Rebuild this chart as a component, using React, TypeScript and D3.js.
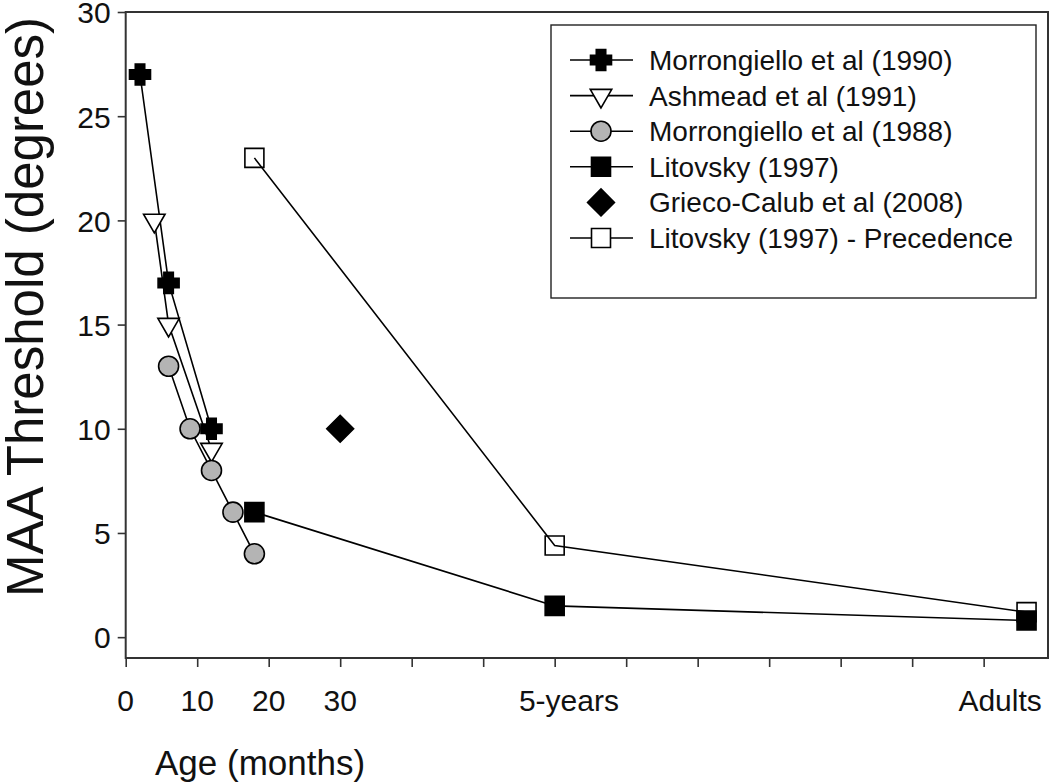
import React, { useEffect, useRef } from 'react';
import * as d3 from 'd3';

// values: [age in months, MAA threshold in degrees]
const morrongiello1990: [number, number][] = [[2, 27], [6, 17], [12, 10]];
const ashmead1991: [number, number][] = [[4, 20], [6, 15], [12, 9]];
const morrongiello1988: [number, number][] = [[6, 13], [9, 10], [12, 8], [15, 6], [18, 4]];
const litovsky1997: [number, number][] = [[18, 6], [60, 1.5], [126, 0.8]];
const griecoCalub2008: [number, number][] = [[30, 10]];
const litovskyPrecedence: [number, number][] = [[18, 23], [60, 4.4], [126, 1.2]];

const seriesNames = [
  'Morrongiello et al (1990)',
  'Ashmead et al (1991)',
  'Morrongiello et al (1988)',
  'Litovsky (1997)',
  'Grieco-Calub et al (2008)',
  'Litovsky (1997) - Precedence',
];

const yTicks = [0, 5, 10, 15, 20, 25, 30];
const xTicks = [0, 10, 20, 30, 40, 50, 60, 70, 80, 90, 100, 110, 120];
const xTickLabels: [string, number][] = [
  ['0', 0], ['10', 10], ['20', 20], ['30', 30], ['5-years', 62], ['Adults', 122.3],
];

const FONT = '"Liberation Sans", Arial, sans-serif';

// fat plus sign like the SigmaPlot marker
const plus = {
  draw(ctx: any, size: number) {
    const h = Math.sqrt(size) / 2;
    const t = h * 0.45;
    ctx.moveTo(-t, -h); ctx.lineTo(t, -h); ctx.lineTo(t, -t); ctx.lineTo(h, -t);
    ctx.lineTo(h, t); ctx.lineTo(t, t); ctx.lineTo(t, h); ctx.lineTo(-t, h);
    ctx.lineTo(-t, t); ctx.lineTo(-h, t); ctx.lineTo(-h, -t); ctx.lineTo(-t, -t);
    ctx.closePath();
  },
};

const series = [
  { name: seriesNames[0], data: morrongiello1990, type: plus, size: 441, fill: '#000', rotate: 0, line: true },
  { name: seriesNames[1], data: ashmead1991, type: d3.symbolTriangle, size: 200, fill: '#fff', rotate: 180, line: true },
  { name: seriesNames[2], data: morrongiello1988, type: d3.symbolCircle, size: 314, fill: '#b4b4b4', rotate: 0, line: true },
  { name: seriesNames[3], data: litovsky1997, type: d3.symbolSquare, size: 361, fill: '#000', rotate: 0, line: true },
  { name: seriesNames[4], data: griecoCalub2008, type: d3.symbolSquare, size: 361, fill: '#000', rotate: 45, line: false },
  { name: seriesNames[5], data: litovskyPrecedence, type: d3.symbolSquare, size: 361, fill: 'none', rotate: 0, line: true },
];

export default function App() {
  const ref = useRef<SVGSVGElement>(null);

  useEffect(() => {
    const svg = d3.select(ref.current);
    svg.selectAll('*').remove();

    const left = 125.7, right = 1048, top = 12, bottom = 658;
    const x = d3.scaleLinear().domain([0, 129]).range([left, right]);
    const y = d3.scaleLinear().domain([-1, 30]).range([bottom, top]);

    // frame
    svg.append('rect')
      .attr('x', left).attr('y', top)
      .attr('width', right - left).attr('height', bottom - top)
      .attr('fill', 'none').attr('stroke', '#333').attr('stroke-width', 2);

    // y axis
    const gy = svg.append('g').attr('transform', `translate(${left},0)`)
      .call(d3.axisLeft(y).tickValues(yTicks).tickSize(8).tickPadding(7).tickFormat(d3.format('d')));
    gy.select('.domain').remove();
    gy.selectAll('line').attr('stroke', '#333').attr('stroke-width', 1.6);
    gy.selectAll('text').attr('font-family', FONT).attr('font-size', 30).attr('fill', '#111')
      .attr('dy', '0.36em');

    // x axis: ticks only, labels placed by hand
    const gx = svg.append('g').attr('transform', `translate(0,${bottom})`)
      .call(d3.axisBottom(x).tickValues(xTicks).tickSize(9).tickFormat(() => ''));
    gx.select('.domain').remove();
    gx.selectAll('line').attr('stroke', '#333').attr('stroke-width', 1.6);

    svg.append('g').selectAll('text')
      .data(xTickLabels)
      .enter().append('text')
      .attr('x', d => x(d[1]))
      .attr('y', 711)
      .attr('text-anchor', 'middle')
      .attr('font-family', FONT).attr('font-size', 30).attr('fill', '#111')
      .text(d => d[0]);

    svg.append('text')
      .attr('x', 155).attr('y', 775)
      .attr('font-family', FONT).attr('font-size', 35).attr('fill', '#111')
      .text('Age (months)');

    svg.append('text')
      .attr('transform', 'translate(43,307) rotate(-90)')
      .attr('text-anchor', 'middle')
      .attr('font-family', FONT).attr('font-size', 51).attr('fill', '#111')
      .text('MAA Threshold (degrees)');

    // series
    const line = d3.line<[number, number]>().x(d => x(d[0])).y(d => y(d[1]));
    series.forEach(s => {
      const g = svg.append('g');
      if (s.line) {
        g.append('path').attr('d', line(s.data))
          .attr('fill', 'none').attr('stroke', '#000').attr('stroke-width', 1.6);
      }
      g.selectAll('path.mk')
        .data(s.data)
        .enter().append('path')
        .attr('class', 'mk')
        .attr('d', d3.symbol().type(s.type as any).size(s.size)())
        .attr('transform', d => `translate(${x(d[0])},${y(d[1])}) rotate(${s.rotate})`)
        .attr('fill', s.fill).attr('stroke', '#000').attr('stroke-width', 1.6);
    });

    // legend
    const lg = svg.append('g');
    lg.append('rect')
      .attr('x', 551).attr('y', 25).attr('width', 485).attr('height', 273)
      .attr('fill', '#fff').attr('stroke', '#222').attr('stroke-width', 1.4);
    const rowY = d3.scaleLinear().domain([0, 5]).range([60, 238]);
    series.forEach((s, i) => {
      const ry = rowY(i);
      if (s.line) {
        lg.append('line').attr('x1', 570).attr('x2', 633).attr('y1', ry).attr('y2', ry)
          .attr('stroke', '#000').attr('stroke-width', 1.6);
      }
      lg.append('path')
        .attr('d', d3.symbol().type(s.type as any).size(s.size)())
        .attr('transform', `translate(601,${ry}) rotate(${s.rotate})`)
        .attr('fill', s.fill === 'none' ? '#fff' : s.fill).attr('stroke', '#000').attr('stroke-width', 1.6);
      lg.append('text')
        .attr('x', 649).attr('y', ry).attr('dy', '0.36em')
        .attr('font-family', FONT).attr('font-size', 28).attr('fill', '#111')
        .text(s.name);
    });
  }, []);

  return (
    <div>
      <svg ref={ref} width={1050} height={783}
        style={{ position: 'absolute', left: 0, top: 0, background: '#fff' }} />
    </div>
  );
}
